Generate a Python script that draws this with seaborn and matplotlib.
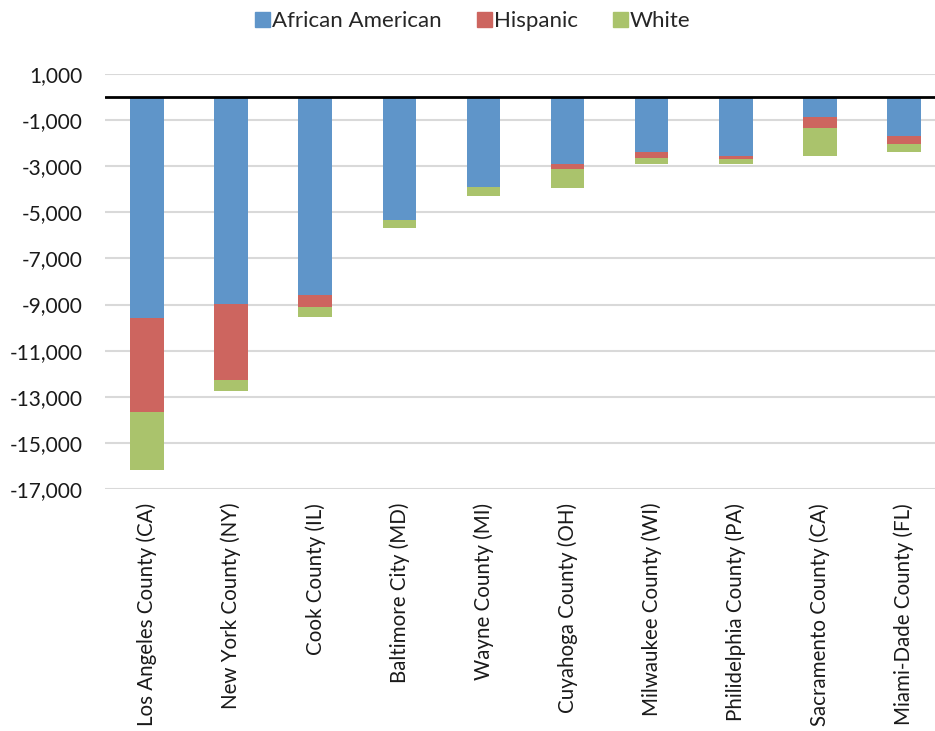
import pandas as pd
import seaborn as sns
import matplotlib
matplotlib.use("Agg")
import matplotlib.pyplot as plt
from matplotlib.patches import Patch
from matplotlib.ticker import FuncFormatter

counties = ["Los Angeles County (CA)", "New York County (NY)", "Cook County (IL)",
            "Baltimore City (MD)", "Wayne County (MI)", "Cuyahoga County (OH)",
            "Milwaukee County (WI)", "Philidelphia County (PA)", "Sacramento County (CA)",
            "Miami-Dade County (FL)"]
african_american = [-9600, -8960, -8570, -5320, -3920, -2920, -2380, -2560, -880, -1710]
hispanic = [-4050, -3310, -520, 0, 0, -200, -280, -140, -460, -330]
white = [-2520, -480, -430, -340, -360, -810, -240, -200, -1230, -330]

colors = {"African American": "#5F95C9", "Hispanic": "#CD655F", "White": "#AAC36C"}

df = pd.DataFrame({"county": counties, "aa": african_american,
                   "hisp": hispanic, "white": white})
# stacked by overlapping cumulative totals
df["aa_hisp"] = df["aa"] + df["hisp"]
df["total"] = df["aa_hisp"] + df["white"]

sns.set_style("white")
plt.rcParams["font.family"] = ["Lato", "DejaVu Sans"]

fig = plt.figure(figsize=(9.35, 7.31), dpi=100)
ax = fig.add_axes([105 / 935, 242 / 731, 830 / 935, 415 / 731])

for col, name in [("total", "White"), ("aa_hisp", "Hispanic"), ("aa", "African American")]:
    sns.barplot(data=df, x="county", y=col, color=colors[name], width=0.4,
                saturation=1, ax=ax, zorder=3, edgecolor="none")

ax.set_ylim(-17000, 1000)
ax.set_xlim(-0.5, 9.37)
ax.set_yticks(range(-17000, 1001, 2000))
ax.yaxis.set_major_formatter(FuncFormatter(lambda v, p: format(int(v), ",")))
ax.grid(axis="y", color="#D9D9D9", linewidth=1.5, zorder=0)
ax.axhline(0, color="black", linewidth=2, zorder=4)
for s in ax.spines.values():
    s.set_visible(False)
ax.set_xlabel("")
ax.set_ylabel("")
ax.tick_params(axis="y", length=0, pad=16, labelsize=15, labelcolor="#1a1a1a")
ax.tick_params(axis="x", length=0, pad=10, labelsize=14.8, labelcolor="#1a1a1a")
plt.setp(ax.get_xticklabels(), rotation=90)

handles = [Patch(color=colors[n], label=n) for n in ["African American", "Hispanic", "White"]]
fig.legend(handles=handles, loc="center", bbox_to_anchor=(473 / 935, 1 - 21 / 731), ncol=3,
           frameon=False, fontsize=16, handlelength=0.65, handleheight=0.65,
           handletextpad=0.1, columnspacing=1.6)

plt.savefig("out.png", dpi=100)
